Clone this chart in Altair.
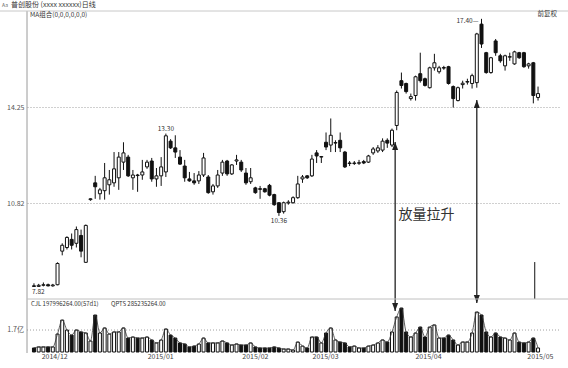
import altair as alt
import pandas as pd

FONT = "Noto Sans CJK SC"

# ---- price data (open, high, low, close), one entry per trading day ----
opens = [7.86, 7.84, 7.88, 7.90, 7.86, 7.90, 9.10, 9.23, 9.52, 9.38, 9.66, 8.70,
         10.94, 11.54, 11.15, 11.26, 11.47, 11.54, 11.72, 12.28, 12.46, 11.72, 11.82, 11.82,
         12.11, 12.32, 11.68, 11.79, 11.93, 13.03, 12.79, 12.46, 12.14, 11.68, 11.61, 11.61,
         11.82, 11.75, 11.22, 11.43, 11.89, 12.32, 11.86, 12.32, 12.28, 11.89, 11.58, 11.36,
         11.33, 11.33, 11.45, 11.12, 10.83, 10.51, 10.82, 10.83, 11.01, 11.68, 11.79, 11.79,
         12.61, 12.46, 12.99, 12.89, 12.96, 13.06, 12.64, 12.25, 12.23, 12.24, 12.30, 12.28,
         12.61, 12.68, 12.71, 13.06, 12.89, 13.59, 15.19, 15.09, 14.55, 14.66, 15.44, 15.26,
         14.94, 15.65, 15.51, 15.66, 15.69, 14.98, 14.48, 15.05, 15.14, 15.09, 15.12, 17.21,
         16.19, 15.48, 16.61, 16.08, 15.72, 16.03, 15.79, 16.19, 16.19, 15.72, 15.83, 14.59]
highs = [7.95, 7.93, 7.98, 7.94, 7.93, 8.70, 9.38, 9.63, 9.73, 9.98, 9.87, 10.05,
         10.99, 11.79, 11.36, 12.25, 12.00, 12.64, 12.64, 12.99, 12.54, 12.00, 11.86, 12.36,
         12.36, 12.43, 12.07, 12.46, 13.30, 13.10, 13.24, 12.71, 12.36, 11.93, 11.89, 11.96,
         12.61, 11.82, 11.50, 12.00, 12.36, 12.36, 12.21, 12.54, 12.36, 12.07, 12.07, 11.40,
         11.43, 11.36, 11.50, 11.15, 10.85, 10.87, 10.92, 11.06, 11.79, 11.82, 11.82, 12.54,
         12.71, 12.50, 13.34, 13.84, 13.06, 13.34, 12.68, 12.32, 12.32, 12.36, 12.36, 12.54,
         12.82, 12.89, 13.13, 13.13, 13.48, 14.84, 15.48, 15.12, 14.73, 15.37, 16.19, 15.30,
         15.69, 16.15, 15.72, 15.72, 15.72, 15.02, 14.98, 15.19, 15.26, 15.44, 16.90, 17.40,
         16.22, 16.04, 16.68, 16.15, 16.12, 16.19, 16.26, 16.22, 16.22, 15.83, 15.86, 14.98]
lows = [7.82, 7.83, 7.84, 7.84, 7.83, 7.88, 8.95, 9.16, 9.16, 9.23, 8.88, 8.68,
        10.90, 10.97, 10.94, 10.94, 11.12, 11.40, 11.29, 12.00, 11.75, 11.29, 11.22, 11.65,
        12.04, 11.58, 11.40, 11.43, 11.75, 12.75, 12.43, 12.18, 11.58, 11.58, 11.47, 11.50,
        11.75, 11.15, 11.12, 11.36, 11.79, 11.79, 11.82, 12.18, 11.93, 11.47, 11.50, 11.15,
        10.97, 11.19, 11.06, 10.72, 10.36, 10.44, 10.76, 10.80, 10.97, 11.54, 11.68, 11.75,
        12.25, 12.25, 12.71, 12.64, 12.64, 12.64, 12.07, 12.14, 12.18, 12.18, 12.21, 12.25,
        12.54, 12.61, 12.64, 12.79, 12.82, 13.42, 14.91, 14.73, 14.48, 14.48, 15.12, 14.98,
        14.91, 15.55, 15.44, 15.58, 15.05, 14.23, 14.45, 14.91, 15.05, 14.91, 14.94, 16.36,
        15.44, 15.44, 16.08, 15.83, 15.55, 15.90, 15.76, 15.97, 15.65, 15.62, 14.38, 14.48]
closes = [7.84, 7.88, 7.90, 7.86, 7.89, 8.66, 9.31, 9.59, 9.31, 9.87, 9.10, 10.02,
          10.97, 11.40, 11.29, 11.72, 11.65, 12.04, 12.46, 12.61, 11.79, 11.82, 11.80, 11.93,
          12.28, 11.68, 11.79, 12.11, 13.22, 12.79, 12.64, 12.21, 11.72, 11.61, 11.54, 11.82,
          12.43, 11.19, 11.43, 11.82, 12.28, 11.86, 12.18, 12.36, 12.00, 11.54, 11.72, 11.19,
          11.31, 11.22, 11.10, 10.76, 10.48, 10.83, 10.85, 11.01, 11.50, 11.75, 11.72, 12.39,
          12.50, 12.48, 12.82, 13.24, 12.98, 12.79, 12.11, 12.23, 12.25, 12.26, 12.25, 12.50,
          12.75, 12.79, 13.03, 12.96, 13.42, 14.77, 15.02, 14.80, 14.62, 15.33, 15.19, 15.02,
          15.65, 15.83, 15.65, 15.64, 15.09, 14.55, 14.94, 15.10, 15.16, 15.37, 16.86, 16.50,
          15.48, 16.01, 16.19, 15.90, 16.08, 16.05, 16.22, 16.01, 15.69, 15.79, 14.66, 14.73]
# volume, in 亿
vols = [0.31, 0.39, 0.39, 0.39, 0.39, 1.39, 2.47, 1.70, 1.31, 1.70, 1.55, 1.47,
        0.85, 2.86, 1.47, 1.86, 1.39, 1.55, 1.55, 1.86, 1.08, 1.16, 1.08, 1.08,
        1.16, 0.93, 0.70, 0.93, 1.78, 1.31, 1.08, 0.70, 0.62, 0.39, 0.46, 0.62,
        1.08, 0.70, 0.70, 0.70, 0.85, 0.70, 0.54, 0.62, 0.54, 0.54, 0.70, 0.39,
        0.31, 0.31, 0.31, 0.39, 0.31, 0.23, 0.23, 0.15, 0.77, 0.46, 0.31, 1.16,
        1.16, 0.70, 1.47, 1.86, 0.93, 0.77, 0.70, 0.39, 0.46, 0.31, 0.31, 0.46,
        0.54, 0.70, 0.93, 0.77, 1.55, 2.71, 3.40, 1.55, 1.16, 1.47, 1.93, 1.16,
        1.93, 2.09, 1.08, 1.08, 1.31, 0.93, 0.54, 0.77, 0.77, 1.47, 3.09, 2.86,
        1.55, 1.16, 1.47, 1.16, 1.08, 0.93, 1.47, 0.77, 0.70, 0.77, 1.08, 0.31]

month_labels = ["2014/12", "2015/01", "2015/02", "2015/03", "2015/04", "2015/05"]
month_pos = [5.4, 27.9, 48.0, 62.9, 84.75, 108.5]

price_ticks = [10.82, 14.25]
vol_ticks = [1.7]
vol_tick_labels = ["1.7亿"]

# extreme-price labels
hi_idx, hi_val, hi_txt = [29], [13.30], ["13.30"]
lo_idx, lo_val, lo_txt = [53], [10.36], ["10.36"]
top_idx, top_val, top_txt = [96], [17.40], ["17.40—"]
bot_idx, bot_val, bot_txt = [1], [7.82], ["7.82"]

# annotation arrows (candle position, price end, volume end)
arrow_idx = [77.67, 95.0]
arrow_price = [13.00, 14.50]
arrow_vol = [3.17, 3.79]
note_idx, note_price, note_txt = [84.3], [10.39], ["放量拉升"]
mark_idx, mark_price = [107.3], [8.71]

n = len(opens)
df = pd.DataFrame({"i": list(range(1, n + 1)), "o": opens, "h": highs,
                   "l": lows, "c": closes, "v": vols})

W, H = 533, 342          # whole plot area: price panel 0..288, volume panel 288..341
H_TOP, V_BASE = 288, 341
INK = "#111111"
GRID = "#a0a0a0"

xsc = alt.Scale(domain=[0.583, 111.6], nice=False, zero=False)
psc = alt.Scale(domain=[7.39, 17.68], range=[H_TOP, 0], nice=False, zero=False)
vsc = alt.Scale(domain=[0, 4.1], range=[V_BASE, H_TOP], nice=False, zero=False)

x_axis = alt.Axis(labels=False, ticks=False, grid=False, domainColor="#b5b5b5", title=None)
p_axis = alt.Axis(values=price_ticks, format=".2f", grid=True, gridDash=[1, 2], gridColor=GRID,
                  ticks=False, domain=False, labelFontSize=7, labelColor="#555555",
                  labelPadding=3, labelFont=FONT, title=None, orient="left")

X = alt.X("i:Q", scale=xsc, axis=x_axis)
XN = alt.X("i:Q", scale=xsc, axis=None)
up_fill = alt.condition("datum.c >= datum.o", alt.value("white"), alt.value(INK))

def PY(field):
    return alt.Y(field, scale=psc, axis=None)

def VY(field):
    return alt.Y(field, scale=vsc, axis=None)

base = alt.Chart(df)
wicks = base.mark_rule(color=INK, strokeWidth=1).encode(
    x=X, y=alt.Y("l:Q", scale=psc, axis=p_axis), y2="h:Q")
bodies = base.mark_bar(size=3, stroke=INK, strokeWidth=1).encode(
    x=XN, y=PY("o:Q"), y2="c:Q", fill=up_fill)

def label_layer(ix, val, txt, **kw):
    d = pd.DataFrame({"i": ix, "p": val, "t": txt})
    return alt.Chart(d).mark_text(font=FONT, fontSize=6.5, color="#333333", **kw).encode(
        x=XN, y=PY("p:Q"), text="t:N")

hi_l = label_layer(hi_idx, hi_val, hi_txt, align="center", baseline="bottom", dy=-2)
lo_l = label_layer(lo_idx, lo_val, lo_txt, align="center", baseline="top", dy=2)
top_l = label_layer(top_idx, top_val, top_txt, align="right", baseline="middle", dx=-3, dy=2)
bot_l = label_layer(bot_idx, bot_val, bot_txt, align="left", baseline="top", dx=-2, dy=2)

note = alt.Chart(pd.DataFrame({"i": note_idx, "p": note_price, "t": note_txt})).mark_text(
    font=FONT, fontSize=14, color="#333333", align="center", baseline="middle").encode(
    x=XN, y=PY("p:Q"), text="t:N")

arr_df = pd.DataFrame({"i": arrow_idx, "p": arrow_price, "v": arrow_vol})
arr_top = alt.Chart(arr_df).mark_rule(color="#222222", strokeWidth=1.3).encode(
    x=XN, y=PY("p:Q"), y2=alt.value(H_TOP))
arr_top_head = alt.Chart(arr_df).mark_point(
    shape="M0,0L-0.75,2L0.75,2Z", size=64, filled=True, color="#222222", opacity=1).encode(
    x=XN, y=PY("p:Q"))
arr_bot = alt.Chart(arr_df).mark_rule(color="#222222", strokeWidth=1.3).encode(
    x=XN, y=VY("v:Q"), y2=alt.value(H_TOP))
arr_bot_head = alt.Chart(arr_df).mark_point(
    shape="M0,0L-0.75,-2L0.75,-2Z", size=64, filled=True, color="#222222", opacity=1).encode(
    x=XN, y=VY("v:Q"))

side_mark = alt.Chart(pd.DataFrame({"i": mark_idx, "p": mark_price})).mark_rule(
    color=INK, strokeWidth=1).encode(x=XN, y=PY("p:Q"), y2=alt.value(H_TOP))

# ---- volume ----
vbars = base.mark_bar(size=3, stroke=INK, strokeWidth=1).encode(
    x=XN, y=VY("v:Q"), y2=alt.value(V_BASE), fill=up_fill)
vline = base.mark_line(interpolate="monotone", color="#333333", strokeWidth=0.8).encode(
    x=XN, y=VY("v:Q"))
vt_df = pd.DataFrame({"v": vol_ticks, "t": vol_tick_labels})
vgrid = alt.Chart(vt_df).mark_rule(color=GRID, strokeDash=[1, 2], strokeWidth=1).encode(
    x=alt.value(0), x2=alt.value(W), y=VY("v:Q"))
vlab = alt.Chart(vt_df).mark_text(font=FONT, fontSize=7, color="#555555", align="right",
                                  baseline="middle").encode(
    x=alt.value(-3), y=VY("v:Q"), text="t:N")

months = alt.Chart(pd.DataFrame({"i": month_pos, "t": month_labels})).mark_text(
    font=FONT, fontSize=7, color="#444444", align="center", baseline="middle").encode(
    x=XN, y=alt.value(H + 4), text="t:N")

# ---- frame lines and header texts ----
one = pd.DataFrame({"k": [0]})
left_line = alt.Chart(one).mark_rule(color="#9a9a9a", strokeWidth=1).encode(
    x=alt.value(0), y=alt.value(0), y2=alt.value(H))
header_line = alt.Chart(one).mark_rule(color="#c8c8c8", strokeWidth=1).encode(
    x=alt.value(-27), x2=alt.value(W + 8), y=alt.value(0))
sep_line = alt.Chart(one).mark_rule(color="#c0c0c0", strokeWidth=1).encode(
    x=alt.value(0), x2=alt.value(W + 8), y=alt.value(H_TOP))

def fixed_text(txt, x, y, size=6.5, align="left", color="#333333"):
    return alt.Chart(one).mark_text(font=FONT, fontSize=size, color=color, align=align,
                                    baseline="middle").encode(
        x=alt.value(x), y=alt.value(y), text=alt.value(txt))

icon_txt = fixed_text("Aa", -25, -6, size=5, color="#666666")
title_txt = fixed_text("普创股份 (xxxx xxxxxx)日线", -16, -6, size=7)
ma_txt = fixed_text("MA组合(0,0,0,0,0,0)", 3, 4)
fq_txt = fixed_text("前复权", 530, 3, align="right")
cjl_txt = fixed_text("CJL   197996264.00(57d1)", 4, H_TOP + 5, size=6)
qpts_txt = fixed_text("QPTS   285235264.00", 84, H_TOP + 5, size=6)

chart = alt.layer(
    wicks, side_mark, arr_top, arr_top_head, bodies, hi_l, lo_l, top_l, bot_l, note,
    vgrid, vbars, vline, arr_bot, arr_bot_head, vlab, months,
    left_line, header_line, sep_line,
    icon_txt, title_txt, ma_txt, fq_txt, cjl_txt, qpts_txt,
).resolve_scale(y="independent").properties(
    width=W, height=H,
    autosize=alt.AutoSizeParams(type="none"),
    padding={"left": 27, "top": 11, "right": 8, "bottom": 15},
).configure(background="white").configure_view(stroke=None)

chart.save("out.html", embed_options={"renderer": "svg", "actions": False})
